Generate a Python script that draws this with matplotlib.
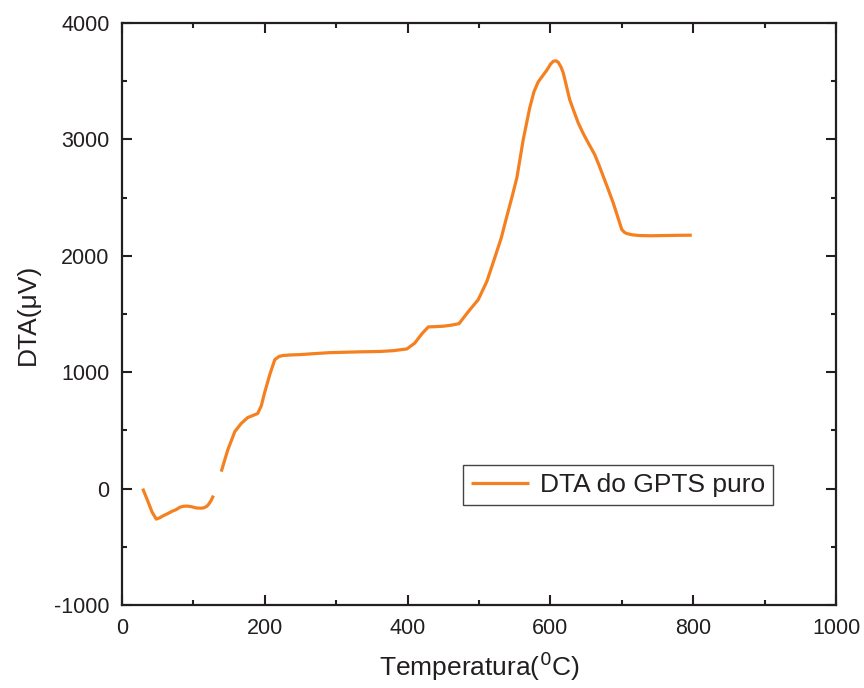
import numpy as np
import matplotlib.pyplot as plt
from matplotlib.ticker import MultipleLocator

plt.rcParams['font.family'] = ['Liberation Sans', 'DejaVu Sans']
plt.rcParams['axes.unicode_minus'] = False

# first segment (low temperature)
temp_a = [29, 35, 42, 48, 53, 58, 64, 70, 76, 81, 86, 91, 97, 104, 110, 114, 118, 121, 125, 128]
dta_a = [0, -90, -200, -262, -250, -232, -215, -195, -180, -160, -152, -150, -155, -166, -168, -166, -155, -138, -100, -60]

# second segment
temp_b = [139, 148, 158, 167, 176, 184, 190, 195, 200, 207, 214, 220, 225, 235, 249, 270, 291, 333,
          361, 380, 399, 410, 420, 429, 440, 450, 462, 472, 485, 499, 511, 522, 531, 539, 546, 553,
          562, 571, 577, 583, 589, 595, 600, 604, 608, 611, 615, 618, 622, 627, 633, 639, 646, 653,
          662, 668, 674, 681, 688, 694, 700, 704, 707, 715, 725, 740, 758, 780, 798]
dta_b = [146, 330, 490, 560, 610, 630, 645, 710, 830, 980, 1108, 1135, 1143, 1148, 1151, 1160, 1168, 1175,
         1178, 1185, 1200, 1250, 1330, 1389, 1392, 1395, 1405, 1417, 1520, 1624, 1780, 1982, 2150, 2340, 2500, 2670,
         3000, 3270, 3410, 3495, 3545, 3595, 3645, 3671, 3675, 3662, 3620, 3571, 3470, 3342, 3240, 3141, 3050, 2970,
         2870, 2780, 2683, 2570, 2454, 2340, 2225, 2200, 2191, 2180, 2174, 2172, 2174, 2176, 2177]

fig = plt.figure(figsize=(8.64, 6.88), dpi=100)
ax = fig.add_axes([0.1412, 0.1206, 0.8264, 0.846])

color = '#f5801f'
ax.plot(temp_a, dta_a, color=color, lw=2.3, solid_capstyle='butt', label='DTA do GPTS puro')
ax.plot(temp_b, dta_b, color=color, lw=2.3, solid_capstyle='butt')

ax.set_xlim(0, 1000)
ax.set_ylim(-1000, 4000)
ax.xaxis.set_major_locator(MultipleLocator(200))
ax.xaxis.set_minor_locator(MultipleLocator(100))
ax.yaxis.set_major_locator(MultipleLocator(1000))
ax.yaxis.set_minor_locator(MultipleLocator(500))
ax.tick_params(which='both', direction='in', top=True, right=True, width=1.5, color='#231f20',
               labelsize=15.5, labelcolor='#231f20')
ax.tick_params(which='major', length=7, pad=9)
ax.tick_params(which='minor', length=3.5)
for s in ax.spines.values():
    s.set_linewidth(1.6)
    s.set_color('#231f20')

ax.set_xlabel('Temperatura($^0$C)', fontsize=19, color='#231f20', labelpad=8)
ax.set_ylabel('DTA(\u03bcV)', fontsize=19, color='#231f20', labelpad=10)

leg = ax.legend(loc='upper left', bbox_to_anchor=(0.4776, 0.2405), fontsize=19, fancybox=False,
                edgecolor='#444444', framealpha=1, handlelength=2.2, handletextpad=0.4,
                borderpad=0.3, borderaxespad=0)
leg.get_frame().set_linewidth(1.0)
for t in leg.get_texts():
    t.set_color('#231f20')

fig.savefig('out.png', dpi=100)
